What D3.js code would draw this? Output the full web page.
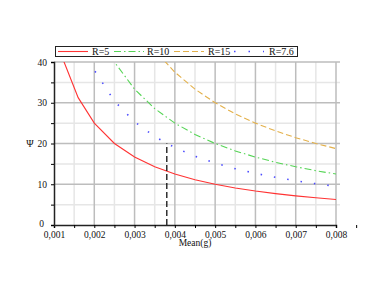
<!DOCTYPE html>
<html>
<head>
<meta charset="utf-8">
<script src="https://cdn.jsdelivr.net/npm/d3@7"></script>
<style>
  body { margin: 0; background: #fff; }
  text { font-family: "Liberation Serif", "DejaVu Serif", serif; fill: #111; }
</style>
</head>
<body>
<div id="chart"></div>
<script>
// data (Psi vs mean mass)
const meanG = [0.001, 0.00125, 0.0016, 0.002, 0.0025, 0.003, 0.0035, 0.004, 0.0045, 0.005, 0.0055, 0.006, 0.0065, 0.007, 0.0075, 0.008];
const psiR5 = [50, 40, 31.25, 25, 20, 16.67, 14.29, 12.5, 11.11, 10, 9.09, 8.33, 7.69, 7.14, 6.67, 6.25];
const psiR10 = [100, 80, 62.5, 50, 40, 33.33, 28.57, 25, 22.22, 20, 18.18, 16.67, 15.38, 14.29, 13.33, 12.5];
const psiR15 = [150, 120, 93.75, 75, 60, 50, 42.86, 37.5, 33.33, 30, 27.27, 25, 23.08, 21.43, 20, 18.75];
const psiR76 = [76, 60.8, 47.5, 38, 30.4, 25.33, 21.71, 19, 16.89, 15.2, 13.82, 12.67, 11.69, 10.86, 10.13, 9.5];
const seriesNames = ['R=5', 'R=10', 'R=15', 'R=7.6'];
const markerX = [0.0038, 0.0038];
const markerY = [0, 20];
const xTicks = [0.001, 0.002, 0.003, 0.004, 0.005, 0.006, 0.007, 0.008];
const yTicks = [0, 10, 20, 30, 40];

const width = 374, height = 291;
const margin = { left: 54, right: 38, top: 62, bottom: 66 };

const svg = d3.select('#chart').append('svg')
  .attr('width', width)
  .attr('height', height);

const x = d3.scaleLinear()
  .domain([0.001, 0.008])
  .range([margin.left, width - margin.right]);
const y = d3.scaleLinear()
  .domain([0, 40])
  .range([height - margin.bottom, margin.top]);

// grid (minor first, then major)
const xMinor = d3.range(0.0015, 0.008, 0.001);
const yMinor = [5, 15, 25, 35];
svg.append('g').selectAll('line')
  .data(xMinor)
  .enter().append('line')
    .attr('x1', d => x(d)).attr('x2', d => x(d))
    .attr('y1', y(0)).attr('y2', y(40))
    .attr('stroke', '#e6e6e6').attr('stroke-width', 1.5);
svg.append('g').selectAll('line')
  .data(yMinor)
  .enter().append('line')
    .attr('x1', x(0.001)).attr('x2', x(0.008) + 4)
    .attr('y1', d => y(d)).attr('y2', d => y(d))
    .attr('stroke', '#e6e6e6').attr('stroke-width', 1.5);
svg.append('g').selectAll('line')
  .data(xTicks.slice(1))
  .enter().append('line')
    .attr('x1', d => x(d)).attr('x2', d => x(d))
    .attr('y1', y(0)).attr('y2', y(40))
    .attr('stroke', '#bdbdbd').attr('stroke-width', 1.5);
svg.append('g').selectAll('line')
  .data(yTicks.slice(1))
  .enter().append('line')
    .attr('x1', x(0.001)).attr('x2', x(0.008) + 4)
    .attr('y1', d => y(d)).attr('y2', d => y(d))
    .attr('stroke', '#bdbdbd').attr('stroke-width', 1.5);

// curves
svg.append('clipPath').attr('id', 'plot')
  .append('rect')
    .attr('x', x(0.001)).attr('y', y(40))
    .attr('width', x(0.008) - x(0.001))
    .attr('height', y(0) - y(40));

const line = d3.line()
  .x(d => x(d[0]))
  .y(d => y(d[1]));

const curves = [
  { vals: psiR5, color: '#ff3333', dash: null, w: 1.1 },
  { vals: psiR10, color: '#55d455', dash: '7,3,1.5,3', w: 1.1 },
  { vals: psiR15, color: '#e3b04a', dash: '6,3', w: 1.1 },
  { vals: psiR76, color: '#4a4aff', dash: '1.5,12', w: 1.6 }
];

const plot = svg.append('g').attr('clip-path', 'url(#plot)');
curves.forEach(function(c) {
  plot.append('path')
    .datum(meanG.map((m, i) => [m, c.vals[i]]))
    .attr('d', line)
    .attr('fill', 'none')
    .attr('stroke', c.color)
    .attr('stroke-width', c.w)
    .attr('stroke-dasharray', c.dash);
});

plot.append('path')
  .datum(markerX.map((m, i) => [m, markerY[i]]))
  .attr('d', line)
  .attr('fill', 'none')
  .attr('stroke', '#111')
  .attr('stroke-width', 1.3)
  .attr('stroke-dasharray', '6,3');

// axes
const xAxis = d3.axisBottom(x)
  .tickValues(d3.range(0.001, 0.00851, 0.0005))
  .tickSize(3)
  .tickFormat(d => (Math.round(d * 2000) % 2 === 0) ? d3.format('.3f')(d).replace('.', ',') : '');
const yAxis = d3.axisLeft(y)
  .tickValues(d3.range(0, 41, 5))
  .tickSize(3)
  .tickFormat(d => d % 10 === 0 ? d : '');

svg.append('g')
  .attr('transform', 'translate(0,' + y(0) + ')')
  .call(xAxis)
  .call(g => g.select('.domain').attr('stroke', '#222').attr('stroke-width', 1.5))
  .call(g => g.selectAll('text').attr('font-size', 9.5).attr('dy', '0.75em')
    .attr('font-family', '"Liberation Serif", serif'));

svg.append('g')
  .attr('transform', 'translate(' + x(0.001) + ',0)')
  .call(yAxis)
  .call(g => g.select('.domain').attr('stroke', '#222').attr('stroke-width', 1.5))
  .call(g => g.selectAll('text').attr('font-size', 9.5)
    .attr('x', d => d === 0 ? -10 : -7)
    .attr('dy', d => d === 0 ? '0.2em' : '0.32em')
    .attr('font-family', '"Liberation Serif", serif'));

svg.append('text')
  .attr('x', (x(0.001) + x(0.008)) / 2)
  .attr('y', 246)
  .attr('text-anchor', 'middle')
  .attr('font-size', 9.5)
  .text('Mean(g)');

svg.append('text')
  .attr('x', 30)
  .attr('y', y(20) + 3)
  .attr('text-anchor', 'middle')
  .attr('font-size', 10)
  .text('Ψ');

// legend
const legend = svg.append('g');
legend.append('rect')
  .attr('x', 55.5).attr('y', 46.5)
  .attr('width', 242).attr('height', 10)
  .attr('fill', '#fff')
  .attr('stroke', '#222');

const legendX = [58, 114, 174, 234];
const legendText = [92, 147, 208, 269];
seriesNames.forEach(function(name, i) {
  const c = curves[i];
  legend.append('line')
    .attr('x1', legendX[i]).attr('x2', legendX[i] + 30)
    .attr('y1', 51.5).attr('y2', 51.5)
    .attr('stroke', c.color)
    .attr('stroke-width', c.w)
    .attr('stroke-dasharray', i === 3 ? '1.5,13' : c.dash);
  legend.append('text')
    .attr('x', legendText[i])
    .attr('y', 55)
    .attr('font-size', 10)
    .text(name);
});
</script>
</body>
</html>
